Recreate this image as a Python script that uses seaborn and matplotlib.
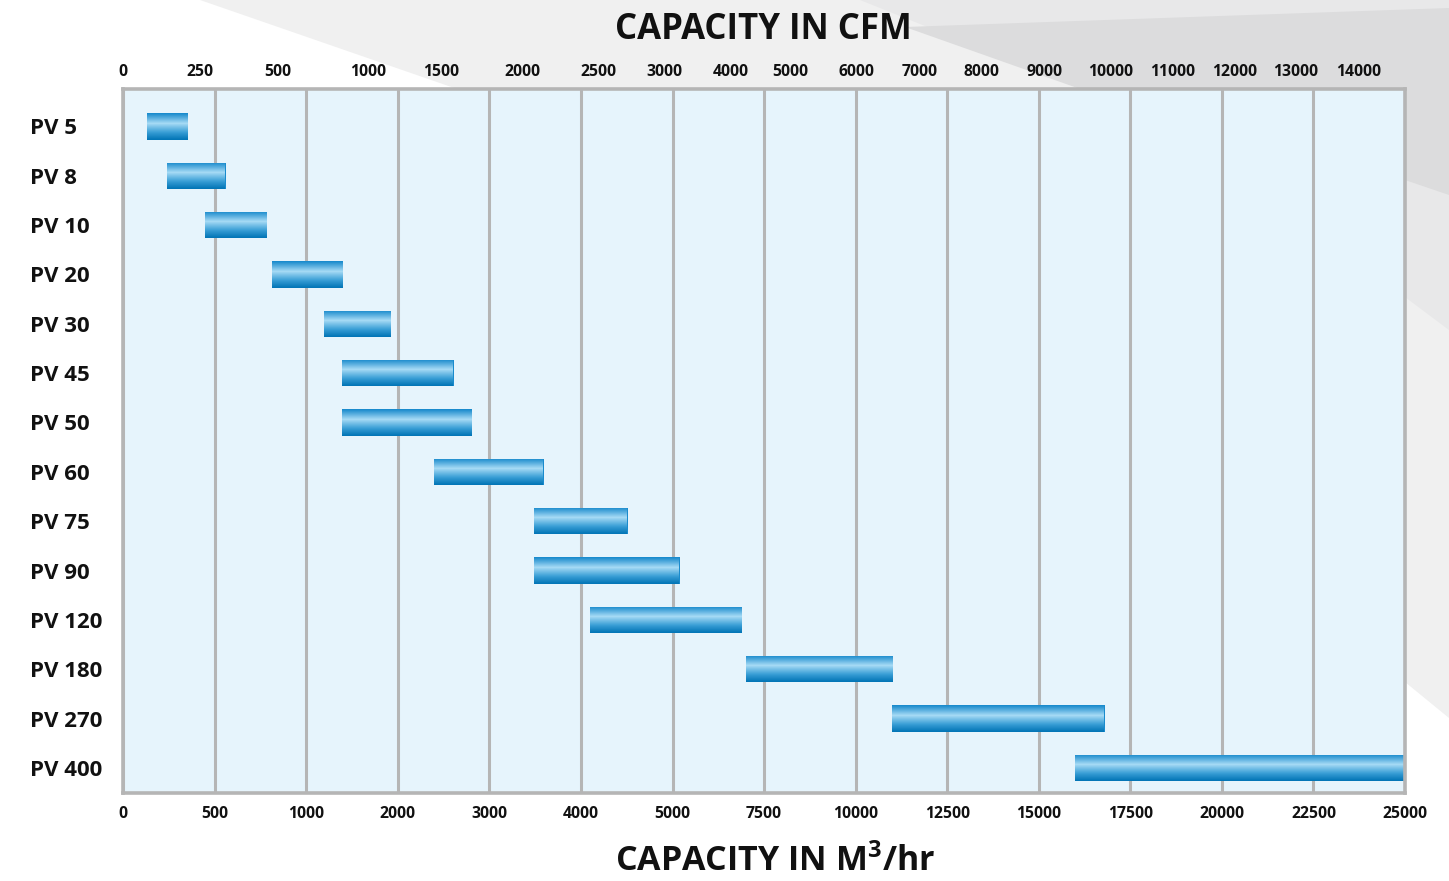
import numpy as np
import pandas as pd
import matplotlib
matplotlib.use('Agg')
import matplotlib.pyplot as plt
import matplotlib.transforms as mtransforms
from matplotlib.colors import LinearSegmentedColormap
from matplotlib.patches import Polygon
import seaborn as sns

# --- data (m3/hr) ---
models = ['PV 5', 'PV 8', 'PV 10', 'PV 20', 'PV 30', 'PV 45', 'PV 50',
          'PV 60', 'PV 75', 'PV 90', 'PV 120', 'PV 180', 'PV 270', 'PV 400']
range_low = [130, 240, 445, 810, 1195, 1390, 1390, 2400, 3490, 3490, 4095, 7005, 11000, 16000]
range_high = [355, 560, 785, 1405, 1930, 2610, 2815, 3600, 4510, 5190, 6910, 11020, 16795, 25000]

# bottom axis (m3/hr) - equally spaced, non linear
m3h_ticks = [0, 500, 1000, 2000, 3000, 4000, 5000, 7500, 10000,
             12500, 15000, 17500, 20000, 22500, 25000]
# top axis labels (CFM) and where they sit on the m3/hr axis
cfm_labels = ['0', '250', '500', '1000', '1500', '2000', '2500', '3000', '4000', '5000',
              '6000', '7000', '8000', '9000', '10000', '11000', '12000', '13000', '14000']
cfm_tick_pos = [0, 419, 845, 1672, 2469, 3364, 4194, 4915, 6588, 8225,
                10028, 11748, 13440, 15150, 16950, 18650, 20350, 22025, 23725]

sns.set_theme(style='white')
plt.rcParams['font.family'] = ['Open Sans', 'DejaVu Sans']
plt.rcParams['font.weight'] = 'bold'
plt.rcParams['mathtext.fontset'] = 'custom'
plt.rcParams['mathtext.rm'] = 'Open Sans:bold'
plt.rcParams['mathtext.it'] = 'Open Sans:bold'
plt.rcParams['mathtext.bf'] = 'Open Sans:bold'

W, H = 1449, 881
idx = np.arange(len(m3h_ticks))


def fwd(v):
    return np.interp(v, m3h_ticks, idx)


def inv(u):
    return np.interp(u, idx, m3h_ticks)


def fig_xy(pts):
    return [(x / W, 1 - y / H) for x, y in pts]


df = pd.DataFrame({'model': models, 'low': range_low, 'high': range_high})
df['span'] = df['high'] - df['low']

fig = plt.figure(figsize=(W / 100, H / 100), dpi=100)
fig.patch.set_facecolor('white')

# decorative grey background shapes
fig.add_artist(Polygon(fig_xy([(200, 0), (1449, 0), (1449, 718), (1405, 682), (1100, 300), (460, 90)]),
                       closed=True, transform=fig.transFigure, facecolor='#f0f0f0', edgecolor='none', zorder=-3))
fig.add_artist(Polygon(fig_xy([(860, 0), (1449, 0), (1449, 330), (1405, 297), (1090, 92)]),
                       closed=True, transform=fig.transFigure, facecolor='#e8e8e9', edgecolor='none', zorder=-2))
fig.add_artist(Polygon(fig_xy([(905, 27), (1449, 8), (1449, 195), (1405, 180), (1083, 90)]),
                       closed=True, transform=fig.transFigure, facecolor='#dcdcdd', edgecolor='none', zorder=-1))

ax = fig.add_axes([123.2 / W, 1 - 793 / H, (1405 - 123.2) / W, (793 - 89) / H])
ax.set_facecolor('#e6f4fc')

sns.barplot(data=df, x='span', y='model', left=df['low'], width=0.53, color='#1a8bcd',
            saturation=1, errorbar=None, linewidth=0, ax=ax, zorder=2)

# vertical gradient on every bar
grad_cmap = LinearSegmentedColormap.from_list(
    'bar', [(0, '#1a8bcd'), (0.38, '#a6daf5'), (0.72, '#3a9fd6'), (1, '#0476b7')])
grad = np.linspace(0, 1, 64).reshape(-1, 1)
blend = mtransforms.blended_transform_factory(ax.transAxes, ax.transData)
for bar in list(ax.patches):
    y0, h = bar.get_y(), bar.get_height()
    im = ax.imshow(grad, cmap=grad_cmap, aspect='auto', extent=(0, 1, y0 + h, y0),
                   origin='upper', transform=blend, interpolation='bilinear', zorder=3)
    im.set_clip_path(bar)

ax.set_xscale('function', functions=(fwd, inv))
ax.set_xlim(0, 25000)
ax.set_ylim(13.51, -0.76)
ax.set_xticks(m3h_ticks, labels=[str(t) for t in m3h_ticks])
ax.minorticks_off()
ax.set_xlabel('')
ax.set_ylabel('')

ax.grid(axis='x', color='#b5b5b5', linewidth=2.2)
ax.grid(axis='y', visible=False)
ax.set_axisbelow(True)
for s in ax.spines.values():
    s.set_visible(True)
    s.set_color('#b5b5b5')
    s.set_linewidth(2.6)
    s.set_zorder(4)

ax.tick_params(axis='x', length=0, pad=9.5, labelsize=11.3, labelcolor='#111111')
ax.tick_params(axis='y', length=0, pad=66.9, labelsize=16, labelcolor='#111111')
for t in ax.get_yticklabels():
    t.set_ha('left')
    t.set_fontweight('bold')
for t in ax.get_xticklabels():
    t.set_fontweight('bold')

# CFM labels along the top edge
top = mtransforms.blended_transform_factory(ax.transData, ax.transAxes)
for pos, lab in zip(cfm_tick_pos, cfm_labels):
    ax.text(pos, 1.0 + 9.5 / 704, lab, transform=top, ha='center', va='bottom',
            fontsize=11.3, fontweight='bold', color='#111111')

fig.text(763 / W, 1 - 39 / H, 'CAPACITY IN CFM', ha='center', va='baseline',
         fontsize=25, fontweight='bold', color='#111111')
fig.text(775 / W, 1 - 871 / H, 'CAPACITY IN M$^3$/hr', ha='center', va='baseline',
         fontsize=24.5, fontweight='bold', color='#111111')

fig.savefig('out.png', dpi=100, facecolor='white')
